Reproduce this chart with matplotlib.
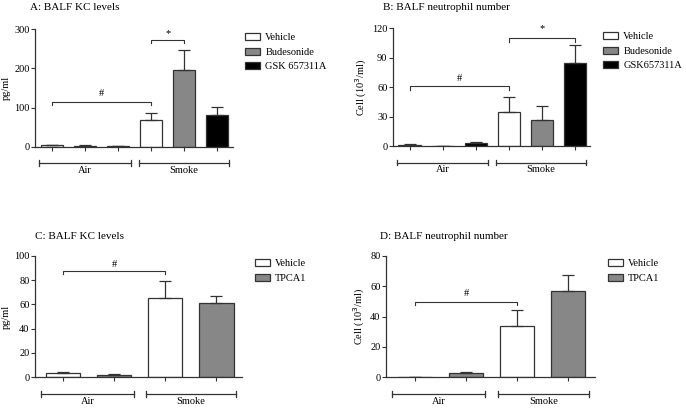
"""BALF KC levels and neutrophil numbers, four panels"""
import matplotlib
matplotlib.use('Agg')
import matplotlib.pyplot as plt
import matplotlib.transforms as mtrans
from matplotlib.patches import Patch
import numpy as np

plt.rcParams['font.family'] = ['Liberation Serif', 'DejaVu Serif']
plt.rcParams['font.size'] = 7.5

W, H = 686, 408

# ---------- data ----------
groups = ['Air', 'Smoke']
treat_top = ['Vehicle', 'Budesonide', 'GSK 657311A']
treat_top_b = ['Vehicle', 'Budesonide', 'GSK657311A']
treat_bottom = ['Vehicle', 'TPCA1']

a_vals = [4, 3, 2, 67, 195, 82]
a_err = [1, 1, 0.5, 18, 53, 20]
b_vals = [1.5, 0, 3, 35, 27, 85]
b_err = [0.5, 0, 1.5, 15, 14, 18]
c_vals = [3.5, 2, 65.5, 61.5]
c_err = [1, 0.8, 13.5, 5]
d_vals = [0.2, 2.7, 33.5, 57]
d_err = [0, 0.8, 11, 10.5]

col3 = ['white', '#878787', 'black']
col2 = ['white', '#878787']
EDGE = '#333333'


def px_axes(fig, left, right, top, bottom):
    return fig.add_axes([left / W, 1 - bottom / H, (right - left) / W, (bottom - top) / H])


def panel(ax, vals, err, colors, ylim, yticks, ylabel, xlim):
    n = len(vals)
    x = np.arange(n)
    cols = [colors[i % len(colors)] for i in range(n)]
    ax.bar(x, vals, width=0.67, color=cols, edgecolor=EDGE, linewidth=0.9, zorder=2)
    ax.errorbar(x, vals, yerr=[np.zeros(n), err], fmt='none', ecolor=EDGE,
                elinewidth=0.9, capsize=4, capthick=0.9, zorder=3)
    ax.set_xlim(*xlim)
    ax.set_ylim(*ylim)
    ax.set_yticks(yticks)
    ax.set_xticks(x)
    ax.set_xticklabels([])
    ax.set_ylabel(ylabel, fontsize=7.5, labelpad=2)
    for s in ['top', 'right']:
        ax.spines[s].set_visible(False)
    for s in ['left', 'bottom']:
        ax.spines[s].set_color(EDGE)
        ax.spines[s].set_linewidth(0.9)
    ax.tick_params(direction='out', length=3, width=0.8, color=EDGE, labelsize=7.5, pad=1)
    # group brackets under the axis
    k = n // 2
    tr = mtrans.blended_transform_factory(ax.transData, ax.transAxes)
    off = 16.5 / (ax.get_position().height * H)
    spans = [(xlim[0] + 0.12, (k - 0.5) - 0.12), ((k - 0.5) + 0.12, xlim[1] - 0.12)]
    for (x0, x1), name in zip(spans, groups):
        ax.plot([x0, x1], [-off, -off], color=EDGE, lw=0.9, transform=tr, clip_on=False)
        for xe in (x0, x1):
            ax.plot([xe, xe], [-off - 0.025, -off + 0.025], color=EDGE, lw=0.9,
                    transform=tr, clip_on=False)
        ax.text((x0 + x1) / 2, -off - 0.025, name, ha='center', va='top',
                fontsize=7.5, transform=tr)


def sig(ax, x0, x1, y, drop, label, label_y):
    ax.plot([x0, x0, x1, x1], [y - drop, y, y, y - drop], color=EDGE, lw=0.8, clip_on=False)
    ax.text((x0 + x1) / 2, label_y, label, ha='center', va='center', fontsize=7.5)


def legend(ax, labels, colors, x, y):
    handles = [Patch(facecolor=c, edgecolor=EDGE, linewidth=0.9) for c in colors]
    ax.legend(handles, labels, loc='upper left', bbox_to_anchor=(x / W, 1 - y / H),
              bbox_transform=ax.figure.transFigure, frameon=False, fontsize=7.5,
              handlelength=1.45, handleheight=0.65, handletextpad=0.5, labelspacing=0.52,
              borderpad=0, borderaxespad=0)


fig = plt.figure(figsize=(W / 100, H / 100), dpi=100)

# A
ax = px_axes(fig, 35, 233, 29.3, 146.7)
panel(ax, a_vals, a_err, col3, (0, 300), [0, 100, 200, 300], 'pg/ml', (-0.52, 5.48))
sig(ax, 0, 3, 115, 9, '#', 135)
sig(ax, 3, 4, 273, 9, '*', 290)
legend(ax, treat_top, col3, 245, 33)
fig.text(30 / W, 1 - 7 / H, 'A: BALF KC levels', fontsize=8, va='center')

# B
ax = px_axes(fig, 393, 590, 28.3, 146)
panel(ax, b_vals, b_err, col3, (0, 120), [0, 30, 60, 90, 120], 'Cell (10$^3$/ml)', (-0.5, 5.45))
sig(ax, 0, 3, 61, 3.5, '#', 69)
sig(ax, 3, 5, 110, 3.5, '*', 120)
legend(ax, treat_top_b, col3, 603, 32)
fig.text(383 / W, 1 - 7 / H, 'B: BALF neutrophil number', fontsize=8, va='center')

# C
ax = px_axes(fig, 35, 242, 255.7, 377.3)
panel(ax, c_vals, c_err, col2, (0, 100), [0, 20, 40, 60, 80, 100], 'pg/ml', (-0.55, 3.5))
sig(ax, 0, 2, 87.7, 2.7, '#', 93)
legend(ax, treat_bottom, col2, 255, 259)
fig.text(35 / W, 1 - 236 / H, 'C: BALF KC levels', fontsize=8, va='center')

# D
ax = px_axes(fig, 386, 595, 255.7, 377.3)
panel(ax, d_vals, d_err, col2, (0, 80), [0, 20, 40, 60, 80], 'Cell (10$^3$/ml)', (-0.57, 3.53))
sig(ax, 0, 2, 49.7, 2.2, '#', 55)
legend(ax, treat_bottom, col2, 608, 259)
fig.text(380 / W, 1 - 236 / H, 'D: BALF neutrophil number', fontsize=8, va='center')

plt.savefig('out.png', dpi=100, facecolor='white')
plt.close()
print("Done: out.png")
